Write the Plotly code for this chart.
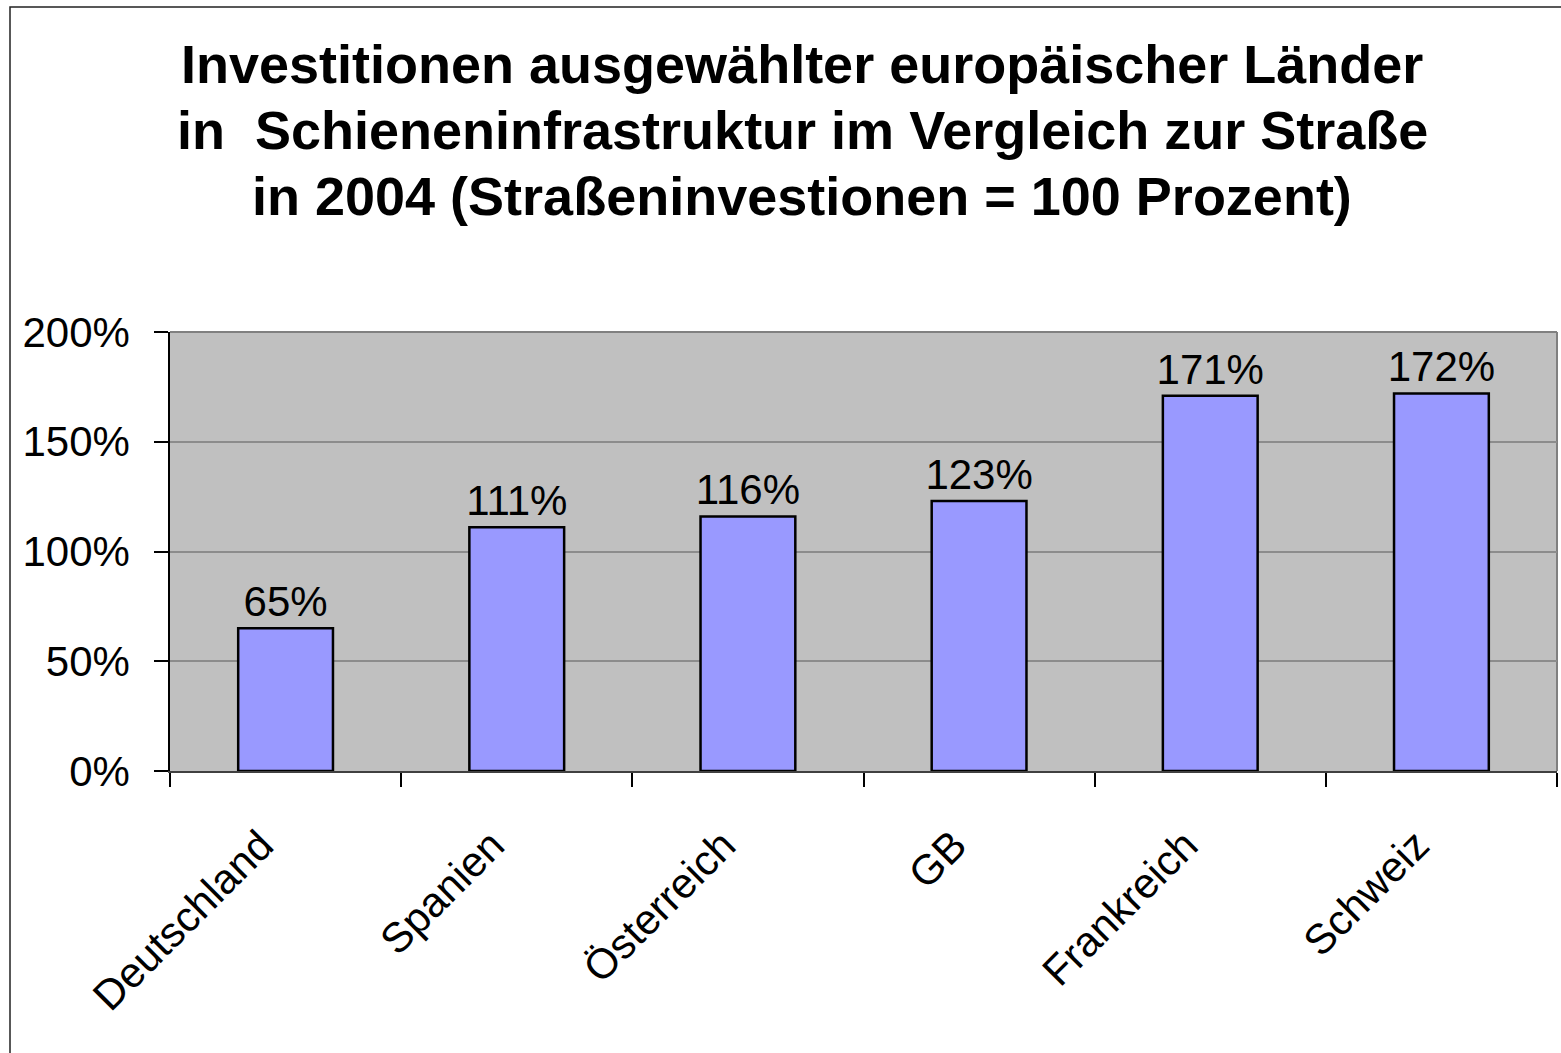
import plotly.graph_objects as go

categories = ["Deutschland", "Spanien", "Österreich", "GB", "Frankreich", "Schweiz"]
values = [65, 111, 116, 123, 171, 172]
y_ticks = [0, 50, 100, 150, 200]
y_tick_labels = ["0%", "50%", "100%", "150%", "200%"]
title_lines = [
    "Investitionen ausgewählter europäischer Länder",
    "in\u00a0\u00a0Schieneninfrastruktur im Vergleich zur Straße",
    "in 2004 (Straßeninvestionen = 100 Prozent)",
]

W, H = 1561, 1053
L, R, T, B = 170, 4, 332, 282
FONT = "Arial, Liberation Sans, sans-serif"

def px_to_paper_x(px):
    return (px - L) / (W - L - R)

def px_to_paper_y(py):
    return (H - B - py) / (H - T - B)

fig = go.Figure()
fig.add_trace(go.Bar(
    x=categories,
    y=values,
    width=0.41,
    marker=dict(color="#9999FF", line=dict(color="black", width=2.5)),
    text=[f"{v}%" for v in values],
    textposition="outside",
    constraintext="none",
    textfont=dict(family=FONT, size=42, color="black"),
    cliponaxis=False,
    hoverinfo="skip",
))

annotations = []
for i, line in enumerate(title_lines):
    annotations.append(dict(
        text=f"<b>{line}</b>",
        xref="paper", yref="paper",
        x=px_to_paper_x(802), y=px_to_paper_y(64 + 66 * i),
        xanchor="center", yanchor="middle",
        showarrow=False,
        font=dict(family=FONT, size=54, color="black"),
    ))

shapes = [
    dict(type="rect", xref="paper", yref="paper",
         x0=px_to_paper_x(10), x1=px_to_paper_x(1620),
         y0=px_to_paper_y(1120), y1=px_to_paper_y(7),
         line=dict(color="#222222", width=1.5), fillcolor="rgba(0,0,0,0)", layer="above"),
    dict(type="line", xref="paper", yref="paper", x0=0, x1=1, y0=1, y1=1,
         line=dict(color="#808080", width=2), layer="below"),
    dict(type="line", xref="paper", yref="paper", x0=1, x1=1, y0=0, y1=1,
         line=dict(color="#808080", width=2), layer="below"),
]

fig.update_layout(
    width=W, height=H,
    margin=dict(l=L, r=R, t=T, b=B, autoexpand=False),
    paper_bgcolor="white",
    plot_bgcolor="#C0C0C0",
    showlegend=False,
    bargap=0.59,
    annotations=annotations,
    shapes=shapes,
    font=dict(family=FONT, color="black"),
)
pad = "\u00a0" * 3
fig.update_xaxes(
    type="category",
    tickson="boundaries",
    tickvals=categories,
    ticktext=[c + pad for c in categories],
    ticks="outside", ticklen=14, tickwidth=1.5, tickcolor="black",
    showline=True, linecolor="#404040", linewidth=2,
    showgrid=False,
    tickangle=-45,
    tickfont=dict(family=FONT, size=42, color="black"),
    ticklabelstandoff=6,
)
fig.update_yaxes(
    range=[0, 200],
    tickvals=y_ticks, ticktext=y_tick_labels,
    ticks="outside", ticklen=14, tickwidth=1.5, tickcolor="black",
    showline=True, linecolor="black", linewidth=1.5,
    showgrid=True, gridcolor="#8C8C8C", gridwidth=1.5,
    zeroline=False,
    tickfont=dict(family=FONT, size=42, color="black"),
    ticklabelstandoff=16,
)

fig.write_html("out.html", config={"displayModeBar": False},
               post_script="document.body.style.margin='0';")
